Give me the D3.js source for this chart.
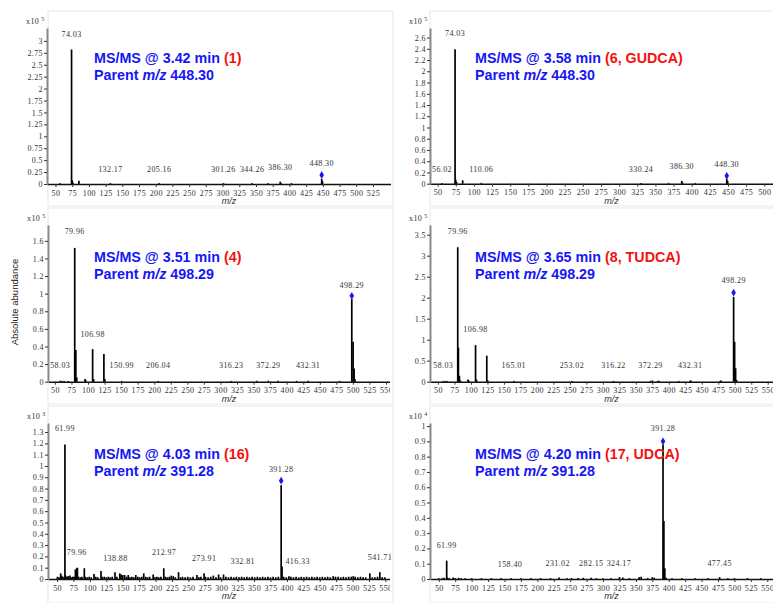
<!DOCTYPE html>
<html>
<head>
<meta charset="utf-8">
<script src="https://cdn.jsdelivr.net/npm/d3@7"></script>
<style>
  body { margin: 0; background: #fff; }
  svg { display: block; }
  .num { font-family: "Liberation Serif", serif; font-size: 8px; fill: #333; letter-spacing: 0.4px; }
  .ttl { font-family: "Liberation Sans", Arial, sans-serif; font-weight: bold; font-size: 14.3px; }
  .mz  { font-family: "Liberation Sans", Arial, sans-serif; font-style: italic; font-size: 9px; fill: #333; }
</style>
</head>
<body>
<svg id="chart" width="773" height="603"></svg>
<script>
// ---- data (intensity in units of the x10^n axis label)

// panel 1 : 3.42 min, parent 448.30
const p1Mz  = [56.8, 74.03, 75.0, 76.0, 85.0, 132.17, 205.16, 301.26, 344.26, 368.0, 386.3, 387.3, 403.0, 448.3, 449.5]
const p1Int = [0.01, 2.82, 0.08, 0.03, 0.07, 0.004, 0.004, 0.004, 0.004, 0.01, 0.05, 0.02, 0.01, 0.11, 0.06]
const p1Labels = ["74.03", "132.17", "205.16", "301.26", "344.26", "386.30", "448.30"]
const p1LabelY = [3.08, 0.25, 0.25, 0.25, 0.25, 0.29, 0.38]
const p1YTicks = [0, 0.25, 0.5, 0.75, 1, 1.25, 1.5, 1.75, 2, 2.25, 2.5, 2.75, 3]
const p1XTicks = [50, 75, 100, 125, 150, 175, 200, 225, 250, 275, 300, 325, 350, 375, 400, 425, 450, 475, 500, 525]

// panel 2 : 3.58 min, GUDCA
const p2Mz  = [56.02, 74.03, 75.0, 76.0, 84.5, 110.06, 330.24, 368.0, 386.3, 387.3, 405.0, 448.3, 449.5]
const p2Int = [0.01, 2.39, 0.07, 0.03, 0.06, 0.004, 0.004, 0.01, 0.05, 0.02, 0.01, 0.09, 0.05]
const p2Labels = ["74.03", "56.02", "110.06", "330.24", "386.30", "448.30"]
const p2LabelY = [2.62, 0.21, 0.21, 0.21, 0.27, 0.30]
const p2YTicks = [0, 0.2, 0.4, 0.6, 0.8, 1, 1.2, 1.4, 1.6, 1.8, 2, 2.2, 2.4, 2.6]
const p2XTicks = [50, 75, 100, 125, 150, 175, 200, 225, 250, 275, 300, 325, 350, 375, 400, 425, 450, 475, 500]

// panel 3 : 3.51 min, parent 498.29
const p3Mz  = [58.03, 61, 64, 70, 79.96, 81.6, 83.0, 95.5, 96.5, 106.98, 108.5, 124.0, 125.5, 150.99, 206.04, 316.23, 355, 372.29, 387, 415, 432.31, 480, 498.29, 500.3, 501.8, 503.0]
const p3Int = [0.012, 0.008, 0.008, 0.008, 1.52, 0.36, 0.05, 0.03, 0.02, 0.37, 0.03, 0.315, 0.03, 0.004, 0.004, 0.004, 0.01, 0.012, 0.01, 0.01, 0.012, 0.01, 0.94, 0.455, 0.15, 0.03]
const p3Labels = ["79.96", "106.98", "58.03", "150.99", "206.04", "316.23", "372.29", "432.31", "498.29"]
const p3LabelY = [1.68, 0.51, 0.15, 0.15, 0.15, 0.15, 0.15, 0.15, 1.07]
const p3YTicks = [0, 0.2, 0.4, 0.6, 0.8, 1, 1.2, 1.4, 1.6]

// panel 4 : 3.65 min, TUDCA
const p4Mz  = [58, 61, 64, 79.96, 81.0, 82.5, 84, 95.5, 96.5, 106.98, 108.5, 124.0, 125.5, 165.01, 253.02, 316.22, 372.29, 375, 383, 385, 415, 432.31, 433.5, 478, 479, 498.29, 499.8, 501.3, 502.8]
const p4Int = [0.02, 0.02, 0.015, 3.2, 0.81, 0.14, 0.03, 0.05, 0.03, 0.87, 0.05, 0.62, 0.03, 0.02, 0.005, 0.005, 0.01, 0.03, 0.02, 0.02, 0.015, 0.02, 0.03, 0.02, 0.03, 2.02, 0.95, 0.32, 0.04]
const p4Labels = ["79.96", "106.98", "58.03", "165.01", "253.02", "316.22", "372.29", "432.31", "498.29"]
const p4LabelY = [3.51, 1.19, 0.32, 0.32, 0.32, 0.32, 0.33, 0.33, 2.34]
const p4YTicks = [0, 0.5, 1, 1.5, 2, 2.5, 3, 3.5]

// panel 5 : 4.03 min, parent 391.28 (noisy)
const p5Mz  = [50.5, 53, 55.5, 57, 59, 61.99, 63, 65, 67, 69.7, 72, 74, 76, 77.9, 79.96, 81, 83, 86, 88, 91.5, 93, 96, 99, 102, 106.2, 109, 112, 116.9, 119, 122, 125, 128, 131, 134, 138.2, 141, 145.5, 147.5, 150, 153, 156, 158.4, 161, 164, 167, 169.9, 173, 176, 179, 182, 185, 188, 191, 196.4, 199, 202, 205, 208, 212.5, 215, 218, 221, 224, 227, 230, 235, 238, 241, 245, 249, 253, 257, 263, 266, 269, 273.9, 276, 280, 284, 288, 292, 296, 299, 303.5, 307, 311, 315, 319, 323, 327, 331, 335, 339, 343, 347, 351, 355, 359, 363, 367, 371, 375, 379, 383, 387, 391.28, 392.6, 395, 399, 403, 406, 410, 414, 418, 422, 426, 430, 434, 438, 442, 446, 450, 454, 458, 462, 466, 470.5, 474, 478, 482, 486, 490, 494, 498, 501, 504, 508, 512, 516, 520, 526.3, 530, 534, 538, 541.5, 545, 549]
const p5Int = [0.02, 0.015, 0.05, 0.03, 0.02, 1.19, 0.03, 0.02, 0.025, 0.03, 0.015, 0.02, 0.02, 0.085, 0.095, 0.1, 0.02, 0.015, 0.02, 0.095, 0.02, 0.015, 0.02, 0.015, 0.045, 0.02, 0.015, 0.07, 0.02, 0.02, 0.015, 0.02, 0.015, 0.02, 0.06, 0.02, 0.05, 0.04, 0.035, 0.035, 0.02, 0.035, 0.015, 0.02, 0.015, 0.035, 0.02, 0.015, 0.02, 0.05, 0.02, 0.015, 0.02, 0.04, 0.015, 0.02, 0.015, 0.02, 0.095, 0.02, 0.015, 0.02, 0.03, 0.025, 0.015, 0.06, 0.015, 0.02, 0.015, 0.02, 0.015, 0.02, 0.035, 0.015, 0.02, 0.05, 0.02, 0.015, 0.02, 0.03, 0.015, 0.04, 0.015, 0.04, 0.02, 0.015, 0.02, 0.015, 0.02, 0.015, 0.02, 0.015, 0.02, 0.015, 0.02, 0.015, 0.02, 0.015, 0.02, 0.015, 0.02, 0.015, 0.02, 0.015, 0.02, 0.83, 0.11, 0.02, 0.015, 0.025, 0.02, 0.015, 0.02, 0.015, 0.02, 0.015, 0.02, 0.015, 0.02, 0.015, 0.02, 0.015, 0.02, 0.015, 0.02, 0.015, 0.025, 0.02, 0.02, 0.015, 0.02, 0.015, 0.02, 0.02, 0.025, 0.02, 0.015, 0.02, 0.015, 0.015, 0.05, 0.015, 0.015, 0.02, 0.06, 0.015, 0.015]
const p5Labels = ["61.99", "79.96", "138.88", "212.97", "273.91", "332.81", "391.28", "416.33", "541.71"]
const p5LabelY = [1.31, 0.21, 0.16, 0.21, 0.16, 0.13, 0.95, 0.13, 0.17]
const p5YTicks = [0, 0.1, 0.2, 0.3, 0.4, 0.5, 0.6, 0.7, 0.8, 0.9, 1, 1.1, 1.2, 1.3]

// panel 6 : 4.20 min, UDCA
const p6Mz  = [50, 55, 58, 61.99, 63, 66, 72, 75, 80, 84, 90, 100, 115, 130, 145, 160, 175, 190, 205, 220, 233, 245, 252, 262, 270, 282, 290, 300, 312, 325, 330, 340, 355, 358, 368, 375, 378, 391.28, 392.6, 394, 396, 405, 420, 440, 460, 477.4, 490, 500, 520, 540]
const p6Int = [0.003, 0.005, 0.008, 0.12, 0.01, 0.006, 0.01, 0.006, 0.008, 0.005, 0.004, 0.003, 0.003, 0.003, 0.003, 0.003, 0.003, 0.003, 0.003, 0.003, 0.01, 0.004, 0.006, 0.006, 0.008, 0.008, 0.004, 0.005, 0.004, 0.012, 0.01, 0.005, 0.012, 0.015, 0.006, 0.012, 0.008, 0.88, 0.38, 0.07, 0.008, 0.004, 0.003, 0.003, 0.003, 0.012, 0.004, 0.004, 0.003, 0.003]
const p6Labels = ["391.28", "61.99", "158.40", "231.02", "282.15", "324.17", "477.45"]
const p6LabelY = [0.97, 0.2, 0.08, 0.085, 0.085, 0.085, 0.087]
const p6YTicks = [0, 0.1, 0.2, 0.3, 0.4, 0.5, 0.6, 0.7, 0.8, 0.9, 1]

const xTicks550 = [50, 75, 100, 125, 150, 175, 200, 225, 250, 275, 300, 325, 350, 375, 400, 425, 450, 475, 500, 525, 550]

const titleTimes = ["3.42", "3.58", "3.51", "3.65", "4.03", "4.20"]
const titleIds   = ["(1)", "(6, GUDCA)", "(4)", "(8, TUDCA)", "(16)", "(17, UDCA)"]
const parentMz   = ["448.30", "448.30", "498.29", "498.29", "391.28", "391.28"]
const precY      = [0.19, 0.14, 0.975, 2.12, 0.87, 0.90]
const exponents  = ["5", "5", "5", "5", "3", "4"]

const BLUE = "#1616f5"
const RED = "#f51010"

// ---- layout of each panel (pixels) and its axis extents
const panels = [
  { mz: p1Mz, int: p1Int, lab: p1Labels, labY: p1LabelY, yTicks: p1YTicks, xTicks: p1XTicks,
    fx: 48, fy: 11, fh: 195, x0: 47, x1: 391, xDom: [37.3, 552], y0: 184, yTop: 28, yMax: 3.27, tx: 94, ty: 63 },
  { mz: p2Mz, int: p2Int, lab: p2Labels, labY: p2LabelY, yTicks: p2YTicks, xTicks: p2XTicks,
    fx: 430, fy: 11, fh: 195, x0: 430, x1: 773, xDom: [39.5, 512], y0: 183.7, yTop: 28, yMax: 2.77, tx: 475, ty: 63 },
  { mz: p3Mz, int: p3Int, lab: p3Labels, labY: p3LabelY, yTicks: p3YTicks, xTicks: xTicks550,
    fx: 48, fy: 208, fh: 196, x0: 48, x1: 390, xDom: [39.6, 556], y0: 381.7, yTop: 225, yMax: 1.78, tx: 94, ty: 262 },
  { mz: p4Mz, int: p4Int, lab: p4Labels, labY: p4LabelY, yTicks: p4YTicks, xTicks: xTicks550,
    fx: 430, fy: 208, fh: 196, x0: 430, x1: 773, xDom: [37.9, 558], y0: 381.7, yTop: 225, yMax: 3.73, tx: 475, ty: 262 },
  { mz: p5Mz, int: p5Int, lab: p5Labels, labY: p5LabelY, yTicks: p5YTicks, xTicks: xTicks550,
    fx: 48, fy: 406, fh: 197, x0: 48, x1: 390, xDom: [36.2, 557], y0: 579, yTop: 423, yMax: 1.38, tx: 94, ty: 459 },
  { mz: p6Mz, int: p6Int, lab: p6Labels, labY: p6LabelY, yTicks: p6YTicks, xTicks: xTicks550,
    fx: 430, fy: 406, fh: 197, x0: 430, x1: 773, xDom: [36.6, 558.7], y0: 579, yTop: 423, yMax: 1.02, tx: 475, ty: 459 }
]

const svg = d3.select('#chart')

svg.append('text')
  .attr('transform', 'translate(18,302) rotate(-90)')
  .attr('text-anchor', 'middle')
  .style('font-family', '"Liberation Sans", Arial, sans-serif')
  .style('font-size', '9.5px')
  .style('fill', '#222')
  .text('Absolute abundance')

panels.forEach(function (p, i) {
  const g = svg.append('g')

  // faint frame
  g.append('rect')
    .attr('x', p.fx).attr('y', p.fy)
    .attr('width', 345).attr('height', p.fh)
    .attr('fill', 'none').attr('stroke', '#e8e8e8').attr('stroke-width', 1)

  g.append('clipPath').attr('id', 'clip' + i)
    .append('rect')
    .attr('x', p.x0 - 25).attr('y', p.fy)
    .attr('width', p.x1 - p.x0 + 25).attr('height', p.fh)

  const x = d3.scaleLinear().domain(p.xDom).range([p.x0, p.x1])
  const y = d3.scaleLinear().domain([0, p.yMax]).range([p.y0, p.yTop])

  const inner = g.append('g').attr('clip-path', 'url(#clip' + i + ')')

  // x axis
  const xa = inner.append('g')
    .attr('transform', 'translate(0,' + p.y0 + ')')
    .call(d3.axisBottom(x).tickValues(p.xTicks).tickSize(3).tickSizeOuter(0).tickFormat(d3.format('d')))
  xa.select('.domain').attr('stroke', '#111').attr('stroke-width', 1.5)
  xa.selectAll('.tick line').attr('stroke', '#333')
  xa.selectAll('.tick text').attr('class', 'num').attr('y', 6).attr('dy', '0.71em')

  // peaks
  inner.selectAll('.peak')
    .data(p.mz.map(function (m, k) { return { mz: m, v: p.int[k] } }))
    .enter()
    .append('line')
    .attr('class', 'peak')
    .attr('x1', function (d) { return x(d.mz) })
    .attr('x2', function (d) { return x(d.mz) })
    .attr('y1', y(0))
    .attr('y2', function (d) { return Math.min(y(d.v), y(0) - 0.8) })
    .attr('stroke', '#000')
    .attr('stroke-width', 1.7)

  // y axis
  const ya = g.append('g')
    .attr('transform', 'translate(' + p.x0 + ',0)')
    .call(d3.axisLeft(y).tickValues(p.yTicks).tickSize(3).tickSizeOuter(0).tickFormat(function (d) { return String(d) }))
  ya.select('.domain').attr('stroke', '#8a8a8a').attr('stroke-width', 2)
  ya.selectAll('.tick line').attr('stroke', '#333')
  ya.selectAll('.tick text').attr('class', 'num').attr('x', -4)

  // x10^n
  const ex = g.append('text').attr('class', 'num')
    .attr('x', p.x0 - 21).attr('y', p.yTop - 4)
  ex.append('tspan').text('x10')
  ex.append('tspan').attr('dx', 2).attr('dy', -3).style('font-size', '6px').text(exponents[i])

  // peak labels
  g.selectAll('.plab')
    .data(p.lab.map(function (t, k) { return { t: t, v: p.labY[k] } }))
    .enter()
    .append('text')
    .attr('class', 'num')
    .attr('text-anchor', 'middle')
    .attr('x', function (d) { return x(parseFloat(d.t)) })
    .attr('y', function (d) { return y(d.v) })
    .text(function (d) { return d.t })

  // precursor diamond
  const pm = parseFloat(parentMz[i])
  g.append('path')
    .attr('d', d3.symbol().type(d3.symbolDiamond).size(18))
    .attr('transform', 'translate(' + x(pm) + ',' + y(precY[i]) + ')')
    .attr('fill', BLUE)

  // m/z axis title
  g.append('text').attr('class', 'mz')
    .attr('text-anchor', 'middle')
    .attr('x', (p.x0 + p.x1) / 2 + 10).attr('y', p.y0 + 20)
    .text('m/z')

  // titles
  const t1 = g.append('text').attr('class', 'ttl').attr('x', p.tx).attr('y', p.ty)
  t1.append('tspan').attr('fill', BLUE).text('MS/MS @ ' + titleTimes[i] + ' min ')
  t1.append('tspan').attr('fill', RED).text(titleIds[i])
  const t2 = g.append('text').attr('class', 'ttl').attr('x', p.tx).attr('y', p.ty + 17).attr('fill', BLUE)
  t2.append('tspan').text('Parent ')
  t2.append('tspan').style('font-style', 'italic').text('m/z')
  t2.append('tspan').text(' ' + parentMz[i])
})
</script>
</body>
</html>
